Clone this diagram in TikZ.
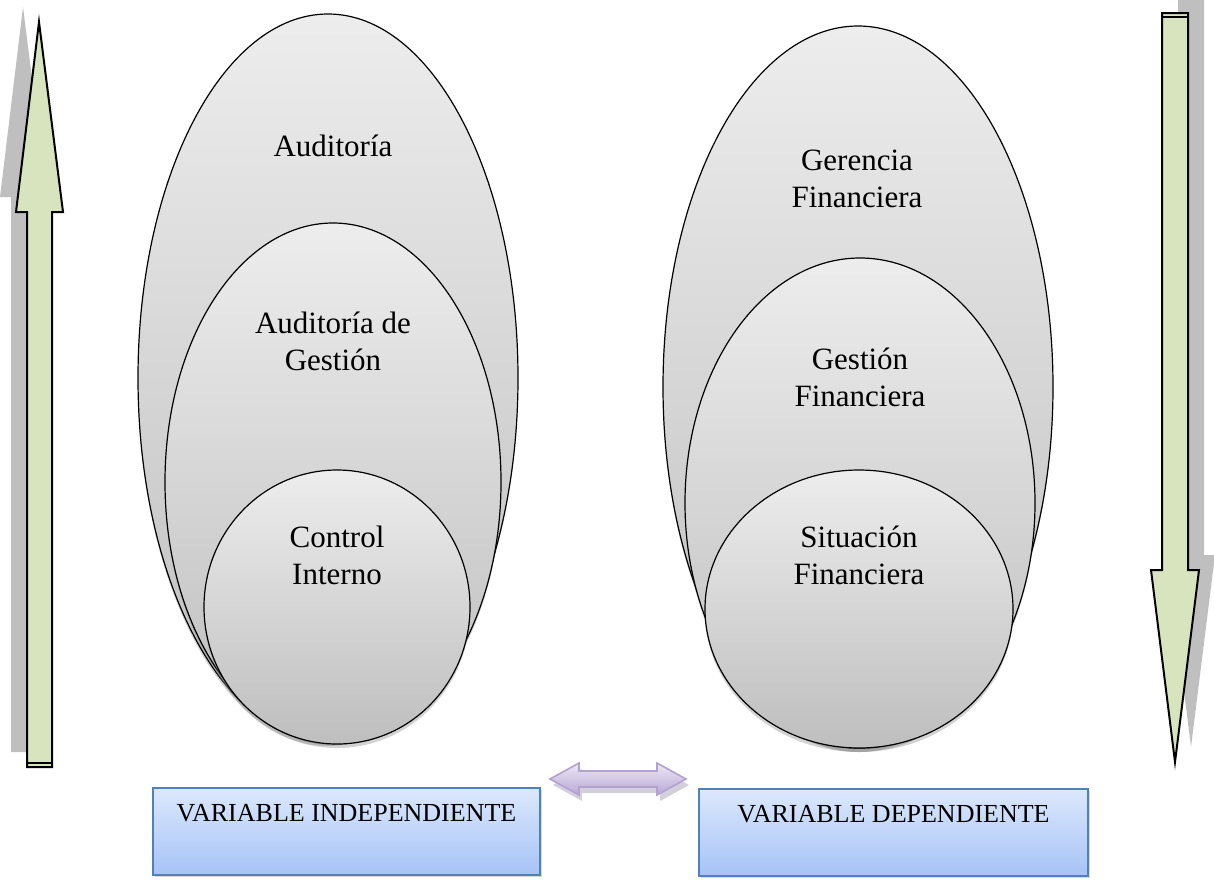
\documentclass[tikz,border=0pt]{standalone}
\usepackage{fontspec}
\setmainfont{Liberation Serif}
\usetikzlibrary{shapes.geometric,positioning,shadows}

\definecolor{setlight}{HTML}{EDEDED}
\definecolor{setdark}{HTML}{BEBEBE}
\definecolor{arrowgreen}{HTML}{D7E4BD}
\definecolor{shadowgray}{HTML}{BFBFBF}
\definecolor{boxtop}{HTML}{DCE8FD}
\definecolor{boxbot}{HTML}{A6C3F6}
\definecolor{boxline}{HTML}{4F81BD}
\definecolor{lavtop}{HTML}{EEE8F6}
\definecolor{lavbot}{HTML}{B7A7D4}
\definecolor{lavline}{HTML}{B3A2CF}

\begin{document}
\begin{tikzpicture}[
    x=0.5pt, y=-0.5pt,
    set/.style={ellipse, draw=black, line width=0.6pt, inner sep=0pt,
                top color=setlight, bottom color=setdark,
                drop shadow={shadow xshift=0pt, shadow yshift=-2pt, opacity=0.35}},
    lbl/.style={align=center, font=\fontsize{15.5}{18.5}\selectfont},
    varbox/.style={rectangle, draw=boxline, line width=0.7pt,
                   top color=boxtop, bottom color=boxbot,
                   minimum height=43.5pt, inner sep=0pt,
                   drop shadow={shadow xshift=1pt, shadow yshift=-1pt, opacity=0.3}},
    vartxt/.style={font=\fontsize{13}{15.5}\selectfont},
    bigarrow/.style={draw=black, line width=1pt, fill=arrowgreen, line join=miter},
    arrowshade/.style={fill=shadowgray}
]
\useasboundingbox (0,0) rectangle (1214,879);

%–––– LEFT ARROW (up) ––––––––––––––––––––––––––––––
\fill[arrowshade] (11,752) -- (11,197) -- (0,197) -- (23,7) -- (47,197) -- (36,197) -- (36,752) -- cycle;
\draw[bigarrow] (27,767) -- (27,212) -- (16,212) -- (39,22) -- (63,212) -- (52,212) -- (52,767) -- cycle;
\draw[line width=1.2pt] (27,763) -- (52,763);

%–––– RIGHT ARROW (down) –––––––––––––––––––––––––––
\fill[arrowshade] (1178,0) -- (1204,0) -- (1204,555) -- (1215,555) -- (1191,747) -- (1167,555) -- (1178,555) -- cycle;
\draw[bigarrow] (1162,13) -- (1188,13) -- (1188,570) -- (1199,570) -- (1175,762) -- (1151,570) -- (1162,570) -- cycle;
\draw[line width=1.2pt] (1162,17) -- (1188,17);

%–––– INDEPENDENT SETS ––––––––––––––––––––––––––––––
\node (audit)  [set, minimum width=190pt, minimum height=364pt] at (328,378) {};
\node (auditg) [set, minimum width=168pt, minimum height=259pt] at (333,482) {};
\node (ctrl)   [set, minimum width=133pt, minimum height=137pt] at (337,607) {};

\node (audittxt)  [lbl] at (333,146) {Auditoría};
\node (auditgtxt) [lbl] at (333,341) {Auditoría de\\Gestión};
\node (ctrltxt)   [lbl] at (337,555) {Control\\Interno};

%–––– DEPENDENT SETS ––––––––––––––––––––––––––––––––
\node (geren) [set, minimum width=195pt, minimum height=361pt] at (858,387) {};
\node (gestf) [set, minimum width=175pt, minimum height=245pt] at (860,503) {};
\node (sitf)  [set, minimum width=154pt, minimum height=139pt] at (859,609) {};

\node (gerentxt) [lbl] at (857,179) {Gerencia\\Financiera};
\node (gestftxt) [lbl] at (860,377) {Gestión\\Financiera};
\node (sitftxt)  [lbl] at (859,555) {Situación\\Financiera};

%–––– VARIABLES –––––––––––––––––––––––––––––––––––––
\node (indep) [varbox, minimum width=193.5pt] at (346.5,831.5) {};
\node (dep)   [varbox, minimum width=194.5pt] at (893.5,832.5) {};

\node (indeptxt) [vartxt, below=5pt of indep.north] {VARIABLE INDEPENDIENTE};
\node (deptxt)   [vartxt, below=5pt of dep.north]   {VARIABLE DEPENDIENTE};

% double arrow between the variables
\fill[lavline!60!gray, opacity=0.45] (553,785) -- (582,769) -- (582,777) -- (660,777) -- (660,769) -- (689,785) -- (660,801) -- (660,793) -- (582,793) -- (582,801) -- cycle;
\path[draw=lavline, line width=0.8pt, top color=lavtop, bottom color=lavbot]
  (550,779) -- (579,763) -- (579,771) -- (657,771) -- (657,763) -- (686,779)
  -- (657,795) -- (657,787) -- (579,787) -- (579,795) -- cycle;
\end{tikzpicture}
\end{document}
